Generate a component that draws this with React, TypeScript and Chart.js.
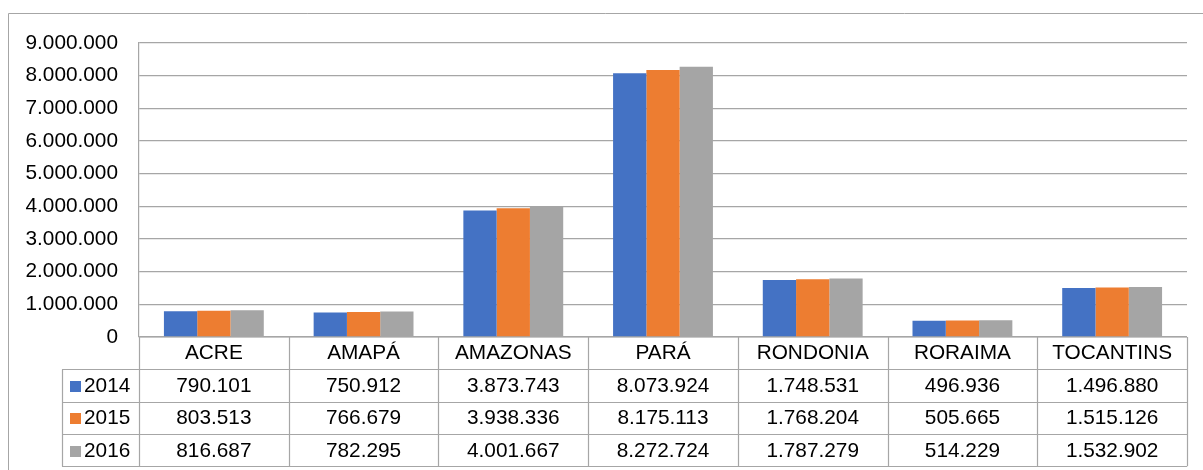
import React, { useEffect, useRef } from "react";
import { Chart, registerables } from "chart.js";

Chart.register(...registerables);

const categories = ["ACRE", "AMAPÁ", "AMAZONAS", "PARÁ", "RONDONIA", "RORAIMA", "TOCANTINS"];
const seriesNames = ["2014", "2015", "2016"];
const values2014 = [790101, 750912, 3873743, 8073924, 1748531, 496936, 1496880];
const values2015 = [803513, 766679, 3938336, 8175113, 1768204, 505665, 1515126];
const values2016 = [816687, 782295, 4001667, 8272724, 1787279, 514229, 1532902];
const colors = ["#4472C4", "#ED7D31", "#A5A5A5"];

const FONT = "Liberation Sans, Arial, sans-serif";
const FONT_SIZE = 20.8;
const LINE = "#a6a6a6";

function fmt(n: number): string {
  return Math.round(n).toString().replace(/\B(?=(\d{3})+(?!\d))/g, ".");
}

const tablePlugin = {
  id: "dataTable",
  afterDraw(chart: any) {
    const ctx = chart.ctx;
    const area = chart.chartArea;
    const xs = chart.scales.x;
    const n = categories.length;
    const colW = (area.right - area.left) / n;
    const rowH = 32.3;
    const top = area.bottom;
    const legendLeft = 62;
    const rows = seriesNames.length;
    const bottom = top + rowH * (rows + 1);
    ctx.save();
    // outer border
    ctx.strokeStyle = LINE;
    ctx.lineWidth = 1;
    ctx.beginPath();
    ctx.moveTo(8.5, 470);
    ctx.lineTo(8.5, 13.5);
    ctx.lineTo(1203, 13.5);
    ctx.stroke();

    ctx.strokeStyle = LINE;
    ctx.lineWidth = 1.2;
    ctx.beginPath();
    ctx.moveTo(area.left, top);
    ctx.lineTo(area.right, top);
    for (let r = 1; r <= rows + 1; r++) {
      const y = Math.round(top + rowH * r) + 0.5;
      ctx.moveTo(legendLeft, y);
      ctx.lineTo(area.right, y);
    }
    for (let c = 0; c <= n; c++) {
      const x = Math.round(area.left + colW * c) + 0.5;
      ctx.moveTo(x, top);
      ctx.lineTo(x, bottom);
    }
    ctx.moveTo(legendLeft + 0.5, Math.round(top + rowH) + 0.5);
    ctx.lineTo(legendLeft + 0.5, Math.round(bottom) + 0.5);
    ctx.stroke();

    ctx.fillStyle = "#000";
    ctx.font = `${FONT_SIZE}px ${FONT}`;
    ctx.textAlign = "center";
    ctx.textBaseline = "middle";
    for (let c = 0; c < n; c++) {
      const cx = xs.getPixelForValue(c);
      ctx.fillText(categories[c], cx, top + rowH / 2);
    }
    const data = [values2014, values2015, values2016];
    for (let r = 0; r < rows; r++) {
      const cy = top + rowH * (r + 1) + rowH / 2 + 1;
      ctx.fillStyle = colors[r];
      ctx.fillRect(70, Math.round(cy - 5.5), 11, 11);
      ctx.fillStyle = "#000";
      ctx.textAlign = "left";
      ctx.fillText(seriesNames[r], 84, cy);
      ctx.textAlign = "center";
      for (let c = 0; c < n; c++) {
        ctx.fillText(fmt(data[r][c]), xs.getPixelForValue(c), cy);
      }
    }
    ctx.restore();
  },
};

export default function App() {
  const ref = useRef<HTMLCanvasElement>(null);
  useEffect(() => {
    if (!ref.current) return;
    const chart = new Chart(ref.current, {
      type: "bar",
      data: {
        labels: categories,
        datasets: [values2014, values2015, values2016].map((d, i) => ({
          label: seriesNames[i],
          data: d,
          backgroundColor: colors[i],
          borderWidth: 0,
          categoryPercentage: 0.667,
          barPercentage: 1,
        })),
      },
      options: {
        responsive: false,
        animation: false,
        devicePixelRatio: 1,
        layout: { padding: { left: 0, top: 43, right: 16, bottom: 133 } },
        plugins: { legend: { display: false }, tooltip: { enabled: false } },
        scales: {
          x: {
            ticks: { display: false },
            grid: { display: false, drawTicks: false },
            border: { display: false },
            afterFit: (s: any) => {
              s.height = 0;
            },
          },
          y: {
            min: 0,
            max: 9000000,
            ticks: {
              stepSize: 1000000,
              padding: 21,
              color: "#000",
              font: { family: FONT, size: FONT_SIZE },
              callback: (v: any) => fmt(Number(v)),
            },
            grid: { color: LINE, lineWidth: 1.2, drawTicks: false },
            border: { display: true, color: LINE, width: 1.2 },
            afterFit: (s: any) => {
              s.width = 139;
            },
          },
        },
      },
      plugins: [tablePlugin],
    });
    return () => chart.destroy();
  }, []);
  return (
    <div style={{ position: "absolute", left: 0, top: 0, width: 1203, height: 470, background: "#fff" }}>
      <canvas ref={ref} width={1203} height={470} style={{ width: 1203, height: 470 }} />
    </div>
  );
}
